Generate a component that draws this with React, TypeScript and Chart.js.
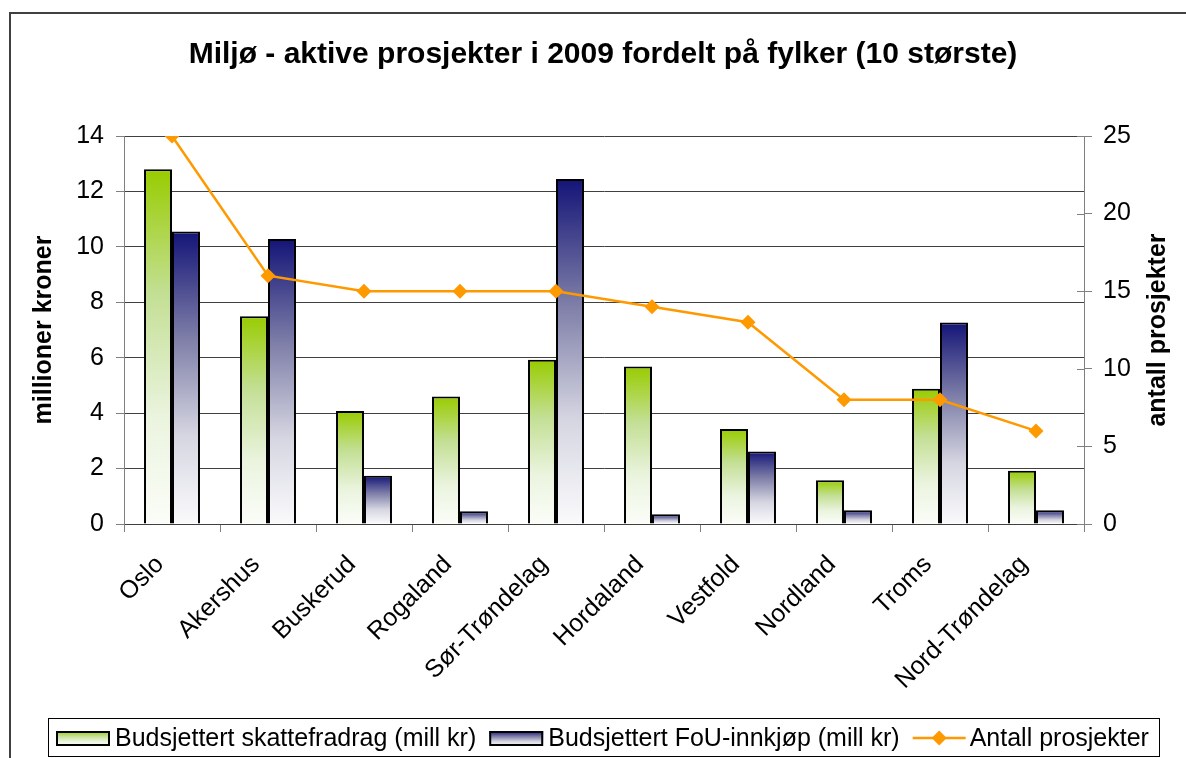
import React, { useEffect, useRef } from 'react';
import { Chart, registerables } from 'chart.js';

Chart.register(...registerables);

const FONT = '"Liberation Sans", Arial, Helvetica, sans-serif';

const titleText = 'Miljø - aktive prosjekter i 2009 fordelt på fylker (10 største)';
const leftAxisTitle = 'millioner kroner';
const rightAxisTitle = 'antall prosjekter';

const categories = [
  'Oslo',
  'Akershus',
  'Buskerud',
  'Rogaland',
  'Sør-Trøndelag',
  'Hordaland',
  'Vestfold',
  'Nordland',
  'Troms',
  'Nord-Trøndelag',
];

const skattefradrag = [12.8, 7.5, 4.08, 4.6, 5.93, 5.68, 3.43, 1.58, 4.88, 1.92];
const fouInnkjop = [10.55, 10.28, 1.74, 0.46, 12.45, 0.35, 2.62, 0.5, 7.27, 0.5];
const antallProsjekter = [25, 16, 15, 15, 15, 14, 13, 8, 8, 6];

const seriesLabels = [
  'Budsjettert skattefradrag (mill kr)',
  'Budsjettert FoU-innkjøp (mill kr)',
  'Antall prosjekter',
];

const leftMax = 14;
const leftStep = 2;
const rightMax = 25;
const rightStep = 5;

const GREEN_STOPS: [number, string][] = [
  [0, '#99cc00'],
  [0.35, '#c3df94'],
  [0.7, '#ebf4df'],
  [1, '#fbfdf8'],
];
const NAVY_STOPS: [number, string][] = [
  [0, '#141478'],
  [0.35, '#7a7aa6'],
  [0.7, '#d6d6e2'],
  [1, '#fafafc'],
];
const ORANGE = '#ff9900';

function makeGradient(ctx: CanvasRenderingContext2D, top: number, bottom: number, stops: [number, string][]) {
  const g = ctx.createLinearGradient(0, top, 0, bottom);
  stops.forEach(([o, c]) => g.addColorStop(o, c));
  return g;
}

function barFill(stops: [number, string][]) {
  return (c: any) => {
    const chart = c.chart;
    if (c.type !== 'data' || !chart.chartArea) return stops[0][1];
    const yScale = chart.scales.y;
    const top = yScale.getPixelForValue(c.raw);
    const bottom = yScale.getPixelForValue(0);
    if (!isFinite(top) || !isFinite(bottom) || bottom - top < 1) return stops[0][1];
    return makeGradient(chart.ctx, top, bottom, stops);
  };
}

const framePlugin = {
  id: 'frameBg',
  beforeDraw(chart: any) {
    const ctx = chart.ctx;
    ctx.save();
    ctx.fillStyle = '#ffffff';
    ctx.fillRect(0, 0, chart.width, chart.height);
    ctx.strokeStyle = '#404040';
    ctx.lineWidth = 2;
    ctx.strokeRect(10, 13, chart.width + 20, chart.height + 20);
    // title
    ctx.fillStyle = '#000';
    ctx.font = 'bold 30px ' + FONT;
    ctx.textAlign = 'center';
    ctx.textBaseline = 'middle';
    ctx.fillText(titleText, 603, 55);
    ctx.restore();
  },
};

const extrasPlugin = {
  id: 'extras',
  afterDraw(chart: any) {
    const ctx: CanvasRenderingContext2D = chart.ctx;
    const y1 = chart.scales.y1;
    const area = chart.chartArea;
    ctx.save();

    // inner half of the crossing tick marks on right axis
    ctx.strokeStyle = '#808080';
    ctx.lineWidth = 1;
    for (let v = 0; v <= rightMax; v += rightStep) {
      const py = Math.round(y1.getPixelForValue(v)) + 0.5;
      ctx.beginPath();
      ctx.moveTo(y1.left - 7, py);
      ctx.lineTo(y1.left, py);
      ctx.stroke();
    }

    // right axis title, reading bottom to top
    ctx.fillStyle = '#000';
    ctx.font = 'bold 25px ' + FONT;
    ctx.textAlign = 'center';
    ctx.textBaseline = 'middle';
    ctx.translate(1158, (area.top + area.bottom) / 2);
    ctx.rotate(-Math.PI / 2);
    ctx.fillText(rightAxisTitle, 0, 0);
    ctx.restore();

    // legend
    ctx.save();
    ctx.strokeStyle = '#000';
    ctx.lineWidth = 1;
    ctx.strokeRect(48.5, 718.5, 1111, 38);
    ctx.font = '25px ' + FONT;
    ctx.textBaseline = 'middle';
    ctx.textAlign = 'left';
    ctx.fillStyle = '#000';
    const cy = 738;
    let x = 56;
    const swW = 54;
    const swH = 15;
    [GREEN_STOPS, NAVY_STOPS].forEach((stops, i) => {
      const top = cy - 7;
      ctx.fillStyle = makeGradient(ctx, top, top + swH, stops);
      ctx.fillRect(x, top, swW, swH);
      ctx.lineWidth = 2;
      ctx.strokeStyle = '#000';
      ctx.strokeRect(x + 1, top + 1, swW - 2, swH - 2);
      x += swW + 5;
      ctx.fillStyle = '#000';
      ctx.fillText(seriesLabels[i], x, cy + 1);
      x += ctx.measureText(seriesLabels[i]).width + 13;
    });
    // line item
    ctx.strokeStyle = ORANGE;
    ctx.lineWidth = 2.5;
    ctx.beginPath();
    ctx.moveTo(x, cy);
    ctx.lineTo(x + 53, cy);
    ctx.stroke();
    ctx.fillStyle = ORANGE;
    const dx = x + 26.5;
    const r = 7.5;
    ctx.beginPath();
    ctx.moveTo(dx, cy - r);
    ctx.lineTo(dx + r, cy);
    ctx.lineTo(dx, cy + r);
    ctx.lineTo(dx - r, cy);
    ctx.closePath();
    ctx.fill();
    x += 57;
    ctx.fillStyle = '#000';
    ctx.fillText(seriesLabels[2], x, cy + 1);
    ctx.restore();
  },
};

export default function App() {
  const canvasRef = useRef<HTMLCanvasElement | null>(null);

  useEffect(() => {
    const canvas = canvasRef.current;
    if (!canvas) return;
    Chart.defaults.font.family = FONT;
    Chart.defaults.color = '#000';

    const chart = new Chart(canvas, {
      type: 'bar',
      data: {
        labels: categories,
        datasets: [
          {
            type: 'line',
            label: seriesLabels[2],
            data: antallProsjekter,
            yAxisID: 'y1',
            order: 0,
            borderColor: ORANGE,
            backgroundColor: ORANGE,
            borderWidth: 2.5,
            pointStyle: 'rectRot',
            pointRadius: 7.5,
            pointBorderWidth: 0,
            pointBackgroundColor: ORANGE,
            tension: 0,
            fill: false,
          } as any,
          {
            type: 'bar',
            label: seriesLabels[0],
            data: skattefradrag,
            yAxisID: 'y',
            order: 1,
            backgroundColor: barFill(GREEN_STOPS),
            borderColor: '#000',
            borderWidth: 2,
            barPercentage: 1,
            categoryPercentage: 0.583,
          },
          {
            type: 'bar',
            label: seriesLabels[1],
            data: fouInnkjop,
            yAxisID: 'y',
            order: 1,
            backgroundColor: barFill(NAVY_STOPS),
            borderColor: '#000',
            borderWidth: 2,
            barPercentage: 1,
            categoryPercentage: 0.583,
          },
        ],
      },
      options: {
        responsive: false,
        animation: false,
        events: [],
        layout: { padding: { left: 0, right: 0, top: 136, bottom: 44 } },
        plugins: {
          legend: { display: false },
          tooltip: { enabled: false },
          title: { display: false },
        },
        scales: {
          x: {
            grid: {
              offset: true,
              drawOnChartArea: false,
              drawTicks: true,
              tickLength: 8,
              color: '#808080',
            },
            border: { color: '#404040', width: 1 },
            ticks: {
              autoSkip: false,
              maxRotation: 45,
              minRotation: 45,
              font: { size: 25, family: FONT },
              color: '#000',
              padding: 18,
              labelOffset: -12,
            },
            afterFit: (s: any) => {
              s.height = 190;
            },
          },
          y: {
            position: 'left',
            min: 0,
            max: leftMax,
            ticks: {
              stepSize: leftStep,
              font: { size: 25, family: FONT },
              color: '#000',
              padding: 12,
            },
            grid: { color: '#404040', tickColor: '#808080', tickLength: 8 },
            border: { color: '#808080', width: 1 },
            title: {
              display: true,
              text: leftAxisTitle,
              color: '#000',
              font: { size: 25, weight: 'bold', family: FONT },
              padding: { top: 29, bottom: 0 },
            },
            afterFit: (s: any) => {
              s.width = 124;
            },
          },
          y1: {
            position: 'right',
            min: 0,
            max: rightMax,
            ticks: {
              stepSize: rightStep,
              font: { size: 25, family: FONT },
              color: '#000',
              padding: 11,
            },
            grid: { drawOnChartArea: false, color: '#808080', tickLength: 8 },
            border: { color: '#808080', width: 1 },
            afterFit: (s: any) => {
              s.width = 102;
            },
          },
        },
      },
      plugins: [framePlugin, extrasPlugin],
    });

    return () => {
      chart.destroy();
    };
  }, []);

  return (
    <div style={{ position: 'absolute', left: 0, top: 0, width: 1186, height: 758 }}>
      <canvas ref={canvasRef} width={1186} height={758} style={{ display: 'block' }} />
    </div>
  );
}
